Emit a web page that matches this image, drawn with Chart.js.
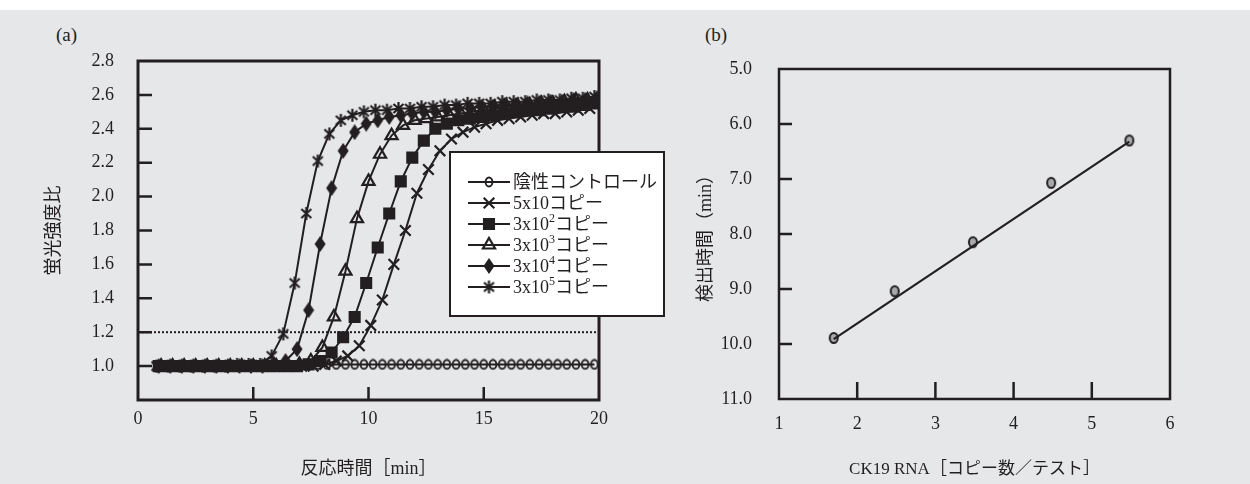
<!DOCTYPE html>
<html>
<head>
<meta charset="utf-8">
<script src="https://cdn.jsdelivr.net/npm/chart.js@4.4.1/dist/chart.umd.min.js"></script>
<style>
body { margin: 0; background: #fff; }
#page { position: relative; width: 1250px; height: 484px; overflow: hidden; background: #fff; }
#bg { position: absolute; left: 0; top: 10px; width: 1250px; height: 474px; background: #e6e7e9; }
.tag { position: absolute; top: 25px; font: 19px 'Liberation Serif', serif; color: #231f20; line-height: 20px; }
#ca { position: absolute; left: 0; top: 10px; }
#cb { position: absolute; left: 680px; top: 10px; }
</style>
</head>
<body>
<div id="page">
  <div id="bg"></div>
  <div class="tag" style="left:56px">(a)</div>
  <div class="tag" style="left:705px">(b)</div>
  <canvas id="ca" width="680" height="474"></canvas>
  <canvas id="cb" width="570" height="474"></canvas>
</div>
<script>
var ink = '#231f20';
var serif = "'Liberation Serif', 'Noto Sans CJK JP', serif";

// (a) reaction curves, each sample read at its own times
var timeNeg = [1.0, 1.4, 1.8, 2.2, 2.6, 3.0, 3.4, 3.8, 4.2, 4.6, 5.0, 5.4, 5.8, 6.2, 6.6, 7.0, 7.4, 7.8, 8.2, 8.6,
               9.0, 9.4, 9.8, 10.2, 10.6, 11.0, 11.4, 11.8, 12.2, 12.6, 13.0, 13.4, 13.8, 14.2, 14.6, 15.0, 15.4, 15.8,
               16.2, 16.6, 17.0, 17.4, 17.8, 18.2, 18.6, 19.0, 19.4, 19.8];
var negCtrl = [1.00, 1.00, 1.00, 1.00, 1.00, 1.00, 1.00, 1.00, 1.00, 1.00, 1.00, 1.00, 1.00, 1.00, 1.00, 1.01,
               1.01, 1.01, 1.01, 1.01, 1.01, 1.01, 1.01, 1.01, 1.01, 1.01, 1.01, 1.01, 1.01, 1.01, 1.01, 1.01,
               1.01, 1.01, 1.01, 1.01, 1.01, 1.01, 1.01, 1.01, 1.01, 1.01, 1.01, 1.01, 1.01, 1.01, 1.01, 1.01];

var time5x10 = [1.1, 1.6, 2.1, 2.6, 3.1, 3.6, 4.1, 4.6, 5.1, 5.6, 6.1, 6.6, 7.1, 7.6, 8.1, 8.6, 9.1, 9.6, 10.1,
                10.6, 11.1, 11.6, 12.1, 12.6, 13.1, 13.6, 14.1, 14.6, 15.1, 15.6, 16.1, 16.6, 17.1, 17.6, 18.1,
                18.6, 19.1, 19.6];
var copies5x10 = [1.00, 1.00, 1.00, 1.00, 1.00, 1.00, 1.00, 1.00, 1.00, 1.00, 1.00, 1.00, 1.00, 1.00, 1.01,
                  1.03, 1.06, 1.12, 1.24, 1.39, 1.60, 1.80, 2.02, 2.16, 2.27, 2.34, 2.38, 2.41, 2.43, 2.45,
                  2.46, 2.47, 2.48, 2.49, 2.49, 2.50, 2.51, 2.52];

var time3e2 = [0.9, 1.4, 1.9, 2.4, 2.9, 3.4, 3.9, 4.4, 4.9, 5.4, 5.9, 6.4, 6.9, 7.4, 7.9, 8.4, 8.9, 9.4, 9.9,
               10.4, 10.9, 11.4, 11.9, 12.4, 12.9, 13.4, 13.9, 14.4, 14.9, 15.4, 15.9, 16.4, 16.9, 17.4, 17.9,
               18.4, 18.9, 19.4, 19.9];
var copies3e2 = [1.00, 1.00, 1.00, 1.00, 1.00, 1.00, 1.00, 1.00, 1.00, 1.00, 1.00, 1.00, 1.00, 1.01, 1.03,
                 1.08, 1.17, 1.29, 1.49, 1.70, 1.90, 2.09, 2.23, 2.33, 2.40, 2.43, 2.45, 2.46, 2.47, 2.48,
                 2.49, 2.50, 2.51, 2.51, 2.52, 2.53, 2.53, 2.54, 2.55];

var time3e3 = [1.0, 1.5, 2.0, 2.5, 3.0, 3.5, 4.0, 4.5, 5.0, 5.5, 6.0, 6.5, 7.0, 7.5, 8.0, 8.5, 9.0, 9.5, 10.0,
               10.5, 11.0, 11.5, 12.0, 12.5, 13.0, 13.5, 14.0, 14.5, 15.0, 15.5, 16.0, 16.5, 17.0, 17.5, 18.0,
               18.5, 19.0, 19.5, 20.0];
var copies3e3 = [1.00, 1.00, 1.00, 1.00, 1.00, 1.00, 1.00, 1.00, 1.00, 1.00, 1.00, 1.00, 1.01, 1.03, 1.11,
                 1.29, 1.56, 1.87, 2.09, 2.25, 2.36, 2.42, 2.45, 2.46, 2.47, 2.48, 2.49, 2.50, 2.51, 2.52,
                 2.53, 2.53, 2.54, 2.55, 2.55, 2.56, 2.57, 2.57, 2.58];

var time3e4 = [0.9, 1.4, 1.9, 2.4, 2.9, 3.4, 3.9, 4.4, 4.9, 5.4, 5.9, 6.4, 6.9, 7.4, 7.9, 8.4, 8.9, 9.4, 9.9,
               10.4, 10.9, 11.4, 11.9, 12.4, 12.9, 13.4, 13.9, 14.4, 14.9, 15.4, 15.9, 16.4, 16.9, 17.4, 17.9,
               18.4, 18.9, 19.4, 19.9];
var copies3e4 = [1.00, 1.00, 1.00, 1.00, 1.00, 1.00, 1.00, 1.00, 1.00, 1.00, 1.01, 1.03, 1.10, 1.33, 1.72,
                 2.05, 2.27, 2.38, 2.43, 2.45, 2.47, 2.48, 2.49, 2.50, 2.50, 2.51, 2.52, 2.52, 2.53, 2.53,
                 2.54, 2.54, 2.55, 2.55, 2.56, 2.56, 2.57, 2.57, 2.58];

var time3e5 = [0.8, 1.3, 1.8, 2.3, 2.8, 3.3, 3.8, 4.3, 4.8, 5.3, 5.8, 6.3, 6.8, 7.3, 7.8, 8.3, 8.8, 9.3, 9.8,
               10.3, 10.8, 11.3, 11.8, 12.3, 12.8, 13.3, 13.8, 14.3, 14.8, 15.3, 15.8, 16.3, 16.8, 17.3, 17.8,
               18.3, 18.8, 19.3, 19.8];
var copies3e5 = [1.00, 1.00, 1.00, 1.00, 1.00, 1.00, 1.00, 1.01, 1.01, 1.01, 1.06, 1.19, 1.49, 1.90, 2.21,
                 2.37, 2.45, 2.48, 2.50, 2.51, 2.51, 2.52, 2.52, 2.53, 2.53, 2.54, 2.54, 2.55, 2.55, 2.55,
                 2.56, 2.56, 2.56, 2.57, 2.57, 2.57, 2.58, 2.58, 2.59];

var threshold = 1.2;
var seriesNames = ['陰性コントロール', '5x10コピー', '3x10^2コピー', '3x10^3コピー', '3x10^4コピー', '3x10^5コピー'];
var xTicksA = [5, 10, 15];
var yTicksA = [1.0, 1.2, 1.4, 1.6, 1.8, 2.0, 2.2, 2.4, 2.6];

// (b) standard curve
var logCopies = [1.70, 2.48, 3.48, 4.48, 5.48];
var detectTime = [9.89, 9.04, 8.15, 7.07, 6.30];
var fitX = [1.70, 5.48];
var fitY = [9.91, 6.32];
var xTicksB = [2, 3, 4, 5];
var yTicksB = [6, 7, 8, 9, 10];

function pts(xs, ys) {
    return xs.map(function (x, i) { return { x: x, y: ys[i] }; });
}

// small marker images
function marker(w, h, draw) {
    var c = document.createElement('canvas');
    c.width = w; c.height = h;
    var g = c.getContext('2d');
    g.strokeStyle = ink; g.fillStyle = ink; g.lineWidth = 2;
    draw(g);
    return c;
}
var ovalOpen = marker(10, 12, function (g) {
    g.lineWidth = 1.9;
    g.beginPath(); g.ellipse(5, 6, 3.4, 4.5, 0, 0, Math.PI * 2); g.stroke();
});
var asterisk = marker(13, 15, function (g) {
    g.lineWidth = 2.2;
    g.beginPath();
    g.moveTo(6.5, 1); g.lineTo(6.5, 14);
    g.moveTo(1.5, 3); g.lineTo(11.5, 12);
    g.moveTo(11.5, 3); g.lineTo(1.5, 12);
    g.stroke();
});
var diamond = marker(12, 16, function (g) {
    g.beginPath();
    g.moveTo(6, 0); g.lineTo(11.5, 8); g.lineTo(6, 16); g.lineTo(0.5, 8); g.closePath(); g.fill();
});
var greyOval = marker(12, 14, function (g) {
    g.beginPath(); g.ellipse(6, 7, 4, 5, 0, 0, Math.PI * 2);
    g.fillStyle = '#a8a9ab'; g.fill(); g.stroke();
});

function series(label, xs, ys, style, radius, fill) {
    return {
        label: label, data: pts(xs, ys), inLegend: true,
        borderColor: ink, borderWidth: 2, tension: 0,
        pointStyle: style, pointRadius: radius, pointBorderWidth: 2.2,
        pointBorderColor: ink, pointBackgroundColor: fill
    };
}

var frame = {
    id: 'frame',
    afterDatasetsDraw: function (chart, args, o) {
        var ctx = chart.ctx, a = chart.chartArea, sx = chart.scales.x, sy = chart.scales.y;
        ctx.save();
        ctx.strokeStyle = ink;
        ctx.lineWidth = o.tickWidth;
        ctx.beginPath();
        o.xTicks.forEach(function (v) {
            var x = sx.getPixelForValue(v);
            ctx.moveTo(x, a.bottom); ctx.lineTo(x, a.bottom - o.xLen);
        });
        o.yTicks.forEach(function (v) {
            var y = sy.getPixelForValue(v);
            ctx.moveTo(a.left, y); ctx.lineTo(a.left + o.yLen, y);
        });
        ctx.stroke();
        ctx.lineWidth = o.border;
        ctx.strokeRect(a.left, a.top, a.right - a.left, a.bottom - a.top);
        ctx.restore();
    }
};

var legendBox = {
    id: 'legendBox',
    afterDraw: function (chart, args, o) {
        var ctx = chart.ctx;
        ctx.save();
        ctx.fillStyle = '#fff';
        ctx.fillRect(o.left, o.top, o.width, o.height);
        ctx.strokeStyle = ink; ctx.lineWidth = 2;
        ctx.strokeRect(o.left, o.top, o.width, o.height);
        chart.data.datasets.filter(function (d) { return d.inLegend; }).forEach(function (d, i) {
            var y = o.top + o.firstRow + i * o.rowGap;
            ctx.strokeStyle = ink; ctx.lineWidth = 2;
            ctx.beginPath(); ctx.moveTo(o.left + 18, y); ctx.lineTo(o.left + 60, y); ctx.stroke();
            ctx.fillStyle = d.pointBackgroundColor;
            ctx.lineWidth = 2.2;
            Chart.helpers.drawPoint(ctx, { pointStyle: d.pointStyle, radius: d.pointRadius, rotation: 0, borderWidth: 2.2 }, o.left + 39, y);
            var parts = d.label.split(/\^(\d)/);
            var x = o.left + 63;
            ctx.fillStyle = ink;
            ctx.textBaseline = 'middle';
            parts.forEach(function (p, k) {
                if (k % 2) {
                    ctx.font = '12px ' + serif;
                    ctx.fillText(p, x, y - 5);
                } else {
                    ctx.font = '18px ' + serif;
                    ctx.fillText(p, x, y + 1);
                }
                x += ctx.measureText(p).width;
            });
        });
        ctx.restore();
    }
};

var tickFont = { family: serif, size: 18 };
var titleFont = { family: serif, size: 18 };

new Chart(document.getElementById('ca'), {
    type: 'line',
    data: {
        datasets: [
            series(seriesNames[0], timeNeg, negCtrl, ovalOpen, 4, 'rgba(0,0,0,0)'),
            series(seriesNames[1], time5x10, copies5x10, 'crossRot', 7.5, 'rgba(0,0,0,0)'),
            series(seriesNames[2], time3e2, copies3e2, 'rect', 7, ink),
            series(seriesNames[3], time3e3, copies3e3, 'triangle', 7, 'rgba(0,0,0,0)'),
            series(seriesNames[4], time3e4, copies3e4, diamond, 6, ink),
            series(seriesNames[5], time3e5, copies3e5, asterisk, 6, ink),
            {
                label: 'threshold', data: [{ x: 0, y: threshold }, { x: 20, y: threshold }],
                borderColor: ink, borderWidth: 2, borderDash: [2, 2], pointRadius: 0
            }
        ]
    },
    options: {
        responsive: false,
        animation: false,
        layout: { padding: { left: 0, top: 51, right: 81, bottom: 0 } },
        plugins: {
            legend: { display: false },
            tooltip: { enabled: false },
            frame: { xTicks: xTicksA, yTicks: yTicksA, xLen: 13, yLen: 14, tickWidth: 2.5, border: 3 },
            legendBox: { left: 450, top: 142, width: 214, height: 164, firstRow: 30, rowGap: 21 }
        },
        scales: {
            x: {
                type: 'linear', min: 0, max: 20,
                afterFit: function (s) { s.height = 84; },
                grid: { display: false }, border: { display: false },
                ticks: { stepSize: 5, color: ink, font: tickFont, padding: 0, maxRotation: 0 },
                title: { display: true, text: '反応時間［min］', color: ink, font: titleFont, padding: { top: 0, bottom: 4 } }
            },
            y: {
                min: 0.8, max: 2.8,
                afterFit: function (s) { s.width = 138; },
                grid: { display: false }, border: { display: false },
                ticks: {
                    stepSize: 0.2, color: ink, font: tickFont, padding: 16,
                    callback: function (v) { return v < 0.9 ? '' : v.toFixed(1); }
                },
                title: { display: true, text: '蛍光強度比', color: ink, font: titleFont, padding: { top: 43, bottom: 0 } }
            }
        }
    },
    plugins: [frame, legendBox]
});

new Chart(document.getElementById('cb'), {
    type: 'line',
    data: {
        datasets: [
            {
                label: 'fit', data: pts(fitX, fitY),
                borderColor: ink, borderWidth: 2.2, pointRadius: 0
            },
            {
                label: 'CK19', data: pts(logCopies, detectTime), showLine: false,
                pointStyle: greyOval, pointRadius: 5
            }
        ]
    },
    options: {
        responsive: false,
        animation: false,
        layout: { padding: { left: 0, top: 59, right: 80, bottom: 0 } },
        plugins: {
            legend: { display: false },
            tooltip: { enabled: false },
            frame: { xTicks: xTicksB, yTicks: yTicksB, xLen: 17, yLen: 13, tickWidth: 2.5, border: 2.5 }
        },
        scales: {
            x: {
                type: 'linear', min: 1, max: 6,
                afterFit: function (s) { s.height = 85; },
                grid: { display: false }, border: { display: false },
                ticks: { stepSize: 1, color: ink, font: tickFont, padding: 6, maxRotation: 0 },
                title: { display: true, text: 'CK19 RNA［コピー数／テスト］', color: ink, font: { family: serif, size: 17 }, padding: { top: 0, bottom: 4 } }
            },
            y: {
                min: 5, max: 11, reverse: true,
                afterFit: function (s) { s.width = 99; },
                grid: { display: false }, border: { display: false },
                ticks: {
                    stepSize: 1, color: ink, font: tickFont, padding: 19,
                    callback: function (v) { return v.toFixed(1); }
                },
                title: { display: true, text: '検出時間（min）', color: ink, font: titleFont, padding: { top: 15, bottom: 0 } }
            }
        }
    },
    plugins: [frame]
});
</script>
</body>
</html>
